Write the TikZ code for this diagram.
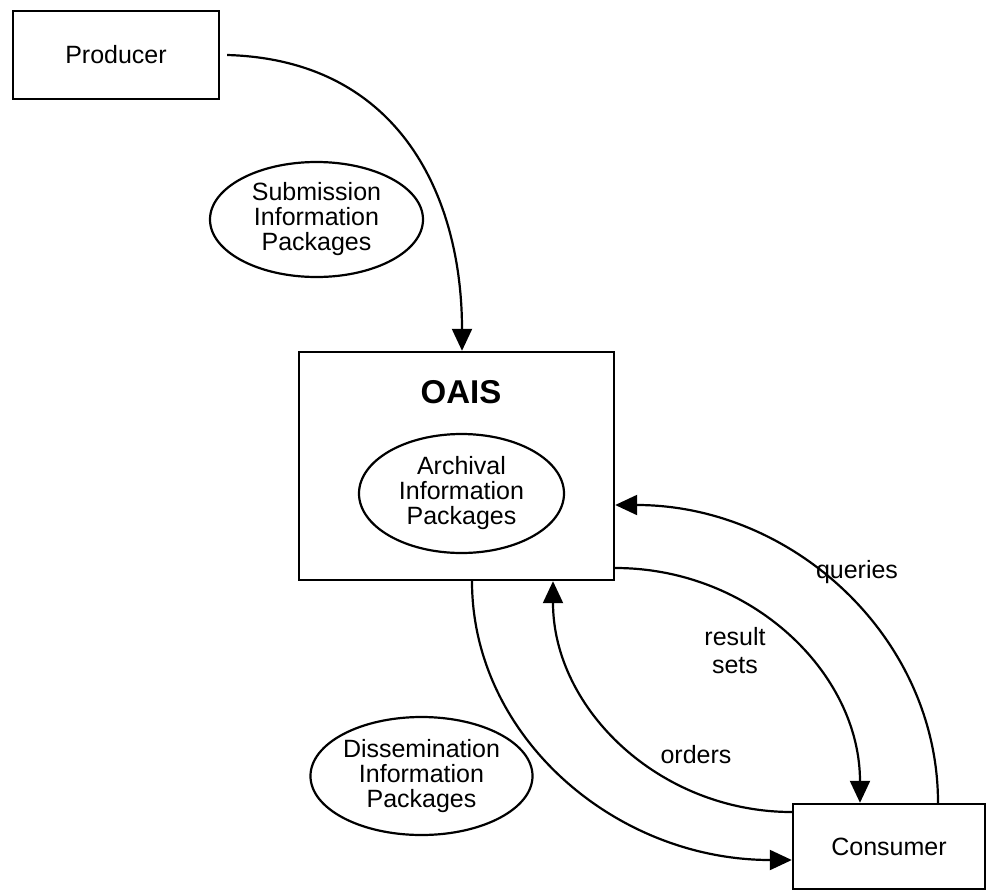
\documentclass[tikz,border=0pt]{standalone}
\usepackage{fontspec}
\setmainfont{Liberation Sans}
\usetikzlibrary{shapes.geometric,arrows.meta}
\begin{document}
\begin{tikzpicture}[x=1pt,y=-1pt,
  box/.style={draw,line width=2.4pt,inner sep=0pt,font=\fontsize{25}{28}\selectfont},
  oval/.style={draw,ellipse,line width=2.2pt,inner sep=0pt,align=center,font=\fontsize{25}{25}\selectfont},
  lbl/.style={font=\fontsize{25}{28}\selectfont,align=center,inner sep=0pt},
  flow/.style={line width=2.2pt,-{Triangle[length=22pt,width=20pt]}}]
\useasboundingbox[fill=white] (0,0) rectangle (994,892);
% boxes
\node[box,minimum width=206pt,minimum height=88pt] (prod) at (116,55) {Producer};
\node[box,minimum width=315pt,minimum height=228pt] (oais) at (456.5,466) {};
\node[box,minimum width=192pt,minimum height=85pt] (cons) at (889,846.5) {Consumer};
\node[font=\fontsize{33}{33}\selectfont\bfseries,inner sep=0pt] (oaislbl) at (461,392) {OAIS};
% ellipses
\node[oval,minimum width=213pt,minimum height=115pt] (sip) at (316.5,219.5) {Submission\\Information\\Packages};
\node[oval,minimum width=205pt,minimum height=119pt] (aip) at (461.5,493.5) {Archival\\Information\\Packages};
\node[oval,minimum width=213pt,minimum height=118pt] (dip) at (421.5,776) {Dissemination\\Information\\Packages};
% connectors
\draw[flow] ([xshift=7pt]prod.east) .. controls +(174,5) and +(0,-152) .. ([xshift=5.5pt]oais.north);
\draw[flow] ([xshift=49pt]cons.north) .. controls +(0,-165) and +(178,0) .. ([yshift=-39pt]oais.east);
\draw[flow] ([yshift=-102pt]oais.east) .. controls +(136,0) and +(0,-130) .. ([xshift=-29pt]cons.north);
\draw[flow] ([yshift=34.5pt]cons.west) .. controls +(-132,0) and +(0,128) .. ([xshift=96.5pt]oais.south);
\draw[flow] ([xshift=15.5pt]oais.south) .. controls +(0,155) and +(-177,0) .. ([yshift=-13.5pt]cons.west);
% labels
\node[lbl,anchor=base] (lq) at (857,578) {queries};
\node[lbl] (lr) at (735,651) {result\\sets};
\node[lbl,anchor=base] (lo) at (696,763) {orders};
\end{tikzpicture}
\end{document}
